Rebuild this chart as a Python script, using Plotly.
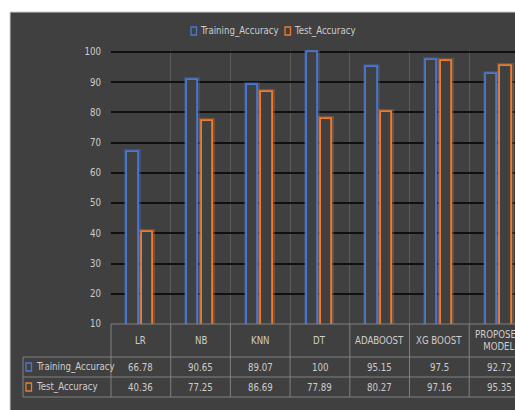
import plotly.graph_objects as go

# ---- data ----
categories = ["LR", "NB", "KNN", "DT", "ADABOOST", "XG BOOST", "PROPOSED MODEL"]
header_labels = ["LR", "NB", "KNN", "DT", "ADABOOST", "XG BOOST", "PROPOSED<br>MODEL"]
series_names = ["Training_Accuracy", "Test_Accuracy"]
training_accuracy = [66.78, 90.65, 89.07, 100, 95.15, 97.5, 92.72]
test_accuracy = [40.36, 77.25, 86.69, 77.89, 80.27, 97.16, 95.35]
y_ticks = [10, 20, 30, 40, 50, 60, 70, 80, 90, 100]

# ---- styling ----
W, H = 515, 410
ML, MR, MT, MB = 111, 0, 50, 86
BG = "#404040"
TXT = "#cdcdcd"
GRID = "#101010"
VGRID = "#5c5c5c"
TABLE_LINE = "#808080"
BLUE = "#4a78cf"
ORANGE = "#ec7c30"
BLUE_GLOW = "rgba(74,120,207,0.30)"
ORANGE_GLOW = "rgba(236,124,48,0.30)"
FONT = "DejaVu Sans Condensed, Liberation Sans Narrow, Arial Narrow, sans-serif"
FS = 9.6

cat_px = 59.7                      # width of one category in pixels
plot_w = W - ML - MR
plot_h = H - MT - MB
x_min = -0.5
x_max = x_min + plot_w / cat_px
px_per_unit = (H - MB - 52) / 90.0  # 10..100 spans the plot below the top gap
y_min = 10
y_max = y_min + plot_h / px_per_unit

idx = list(range(len(categories)))


def xp(px):
    """pixel column -> paper x"""
    return (px - ML) / plot_w


def yp(py):
    """pixel row -> paper y"""
    return (H - MB - py) / plot_h


def cat_paper(v):
    """x data value -> paper x"""
    return (v - x_min) / (x_max - x_min)


fig = go.Figure()

bar_w = 0.19
for vals, off, col, glow in [
    (training_accuracy, -0.225, BLUE, BLUE_GLOW),
    (test_accuracy, 0.02, ORANGE, ORANGE_GLOW),
]:
    # soft halo around the outline
    fig.add_trace(go.Bar(
        x=idx, y=vals, width=bar_w, offset=off,
        marker=dict(color=BG, line=dict(color=glow, width=5)),
        showlegend=False, hoverinfo="skip",
    ))
    fig.add_trace(go.Bar(
        x=idx, y=vals, width=bar_w, offset=off,
        marker=dict(color=BG, line=dict(color=col, width=1.8)),
        showlegend=False,
    ))

shapes = []
# dark chart background with a light frame
shapes.append(dict(type="rect", xref="paper", yref="paper",
                   x0=xp(10), x1=xp(W + 20), y0=yp(H + 20), y1=yp(12),
                   fillcolor=BG, line=dict(color="#cfcfcf", width=1), layer="below"))

# data table grid
def hline(py, px0, px1):
    shapes.append(dict(type="line", xref="paper", yref="paper",
                       x0=xp(px0), x1=xp(px1), y0=yp(py), y1=yp(py),
                       line=dict(color=TABLE_LINE, width=1)))

def vline_paper(xpaper, py0, py1):
    shapes.append(dict(type="line", xref="paper", yref="paper",
                       x0=xpaper, x1=xpaper, y0=yp(py0), y1=yp(py1),
                       line=dict(color=TABLE_LINE, width=1)))

row_top, row1, row2, row_bot = 324, 357, 377, 397
label_left = 23
hline(row_top, ML, W + 5)
for py in (row1, row2, row_bot):
    hline(py, label_left, W + 5)
vline_paper(xp(label_left), row1, row_bot)
for k in range(len(categories) + 1):
    xpaper = cat_paper(k - 0.5)
    if xpaper <= 1.0:
        vline_paper(xpaper, row_top, row_bot)

annotations = []
# header row
for i, lab in enumerate(header_labels):
    annotations.append(dict(x=i, xref="x", y=yp((row_top + row1) / 2), yref="paper",
                            text=lab, showarrow=False, xanchor="center", yanchor="middle",
                            font=dict(family=FONT, size=FS, color=TXT)))
# value rows
for vals, py0, py1 in [(training_accuracy, row1, row2), (test_accuracy, row2, row_bot)]:
    for i, v in enumerate(vals):
        annotations.append(dict(x=i, xref="x", y=yp((py0 + py1) / 2), yref="paper",
                                text=f"{v:g}", showarrow=False, xanchor="center",
                                yanchor="middle",
                                font=dict(family=FONT, size=FS, color=TXT)))

# row labels and legend keys
def key(px, pycenter, col):
    shapes.append(dict(type="rect", xref="paper", yref="paper",
                       x0=xp(px), x1=xp(px + 5.5), y0=yp(pycenter + 4), y1=yp(pycenter - 4),
                       fillcolor=BG, line=dict(color=col, width=1.3)))

for name, col, py0, py1 in [(series_names[0], BLUE, row1, row2),
                            (series_names[1], ORANGE, row2, row_bot)]:
    yc = (py0 + py1) / 2
    key(26, yc, col)
    annotations.append(dict(x=xp(34), xref="paper", y=yp(yc), yref="paper",
                            text=name, showarrow=False, xanchor="left", yanchor="middle",
                            font=dict(family=FONT, size=FS, color=TXT)))

for name, col, kx in [(series_names[0], BLUE, 191), (series_names[1], ORANGE, 285)]:
    key(kx, 31, col)
    annotations.append(dict(x=xp(kx + 7), xref="paper", y=yp(31), yref="paper",
                            text=name, showarrow=False, xanchor="left", yanchor="middle",
                            font=dict(family=FONT, size=FS, color=TXT)))

fig.update_layout(
    width=W, height=H,
    margin=dict(l=ML, r=MR, t=MT, b=MB, pad=0),
    paper_bgcolor="white",
    plot_bgcolor=BG,
    barmode="overlay",
    bargap=0,
    showlegend=False,
    shapes=shapes,
    annotations=annotations,
    xaxis=dict(range=[x_min, x_max], tickmode="array",
               tickvals=[k - 0.5 for k in range(len(categories) + 1)],
               showticklabels=False, ticks="", showgrid=True, gridcolor=VGRID,
               gridwidth=1, zeroline=False, showline=False, fixedrange=True),
    yaxis=dict(range=[y_min, y_max], tickmode="array", tickvals=y_ticks,
               ticks="", showgrid=True, gridcolor=GRID, gridwidth=1.6,
               zeroline=False, showline=False, ticklabelstandoff=9,
               tickfont=dict(family=FONT, size=FS, color=TXT), fixedrange=True),
)

fig.write_html("out.html")
